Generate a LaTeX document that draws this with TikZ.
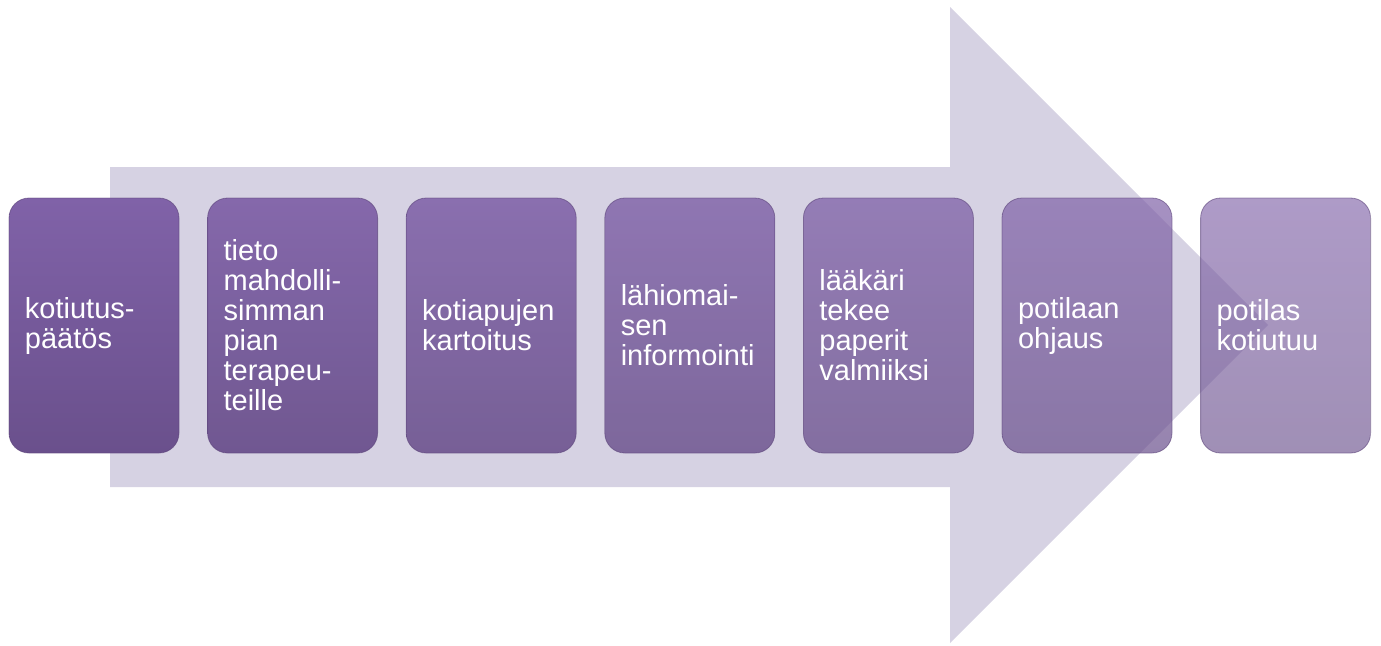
\documentclass[tikz,border=0pt]{standalone}
\usepackage{fontspec}
\setmainfont{Liberation Sans}
\usepackage{tikz}
\usetikzlibrary{positioning}
\definecolor{arrowlilac}{RGB}{214,210,227}
\definecolor{steptop}{RGB}{128,98,168}
\definecolor{stepbot}{RGB}{106,80,140}
\definecolor{stepedge}{RGB}{92,68,122}

\begin{document}
\begin{tikzpicture}[x=0.5pt, y=-0.5pt, node distance=13.9pt,
    every node/.style={font=\fontsize{14.5}{15}\selectfont},
    phase/.style={rectangle, rounded corners=10pt, top color=steptop, bottom color=stepbot,
      draw=stepedge, draw opacity=0.6, line width=0.4pt, minimum width=85pt, minimum height=127.5pt,
      text width=69pt, inner xsep=8pt, align=left, text=white, fill opacity=#1, text opacity=1}]
  \useasboundingbox (0,0) rectangle (1381,645);
  % big arrow behind the steps
  \draw[fill=arrowlilac, draw=none] (110,167) -- (950,167) -- (950,7) -- (1268,325)
    -- (950,643) -- (950,487) -- (110,487) -- cycle;
  % the steps
  \node[phase=1] (paatos) at (94,325.5) {kotiutus-\\päätös};
  \node[phase=0.94, right=of paatos] (tieto) {tieto\\mahdolli-\\simman\\pian\\terapeu-\\teille};
  \node[phase=0.88, right=of tieto] (kartoitus) {kotiapujen\\kartoitus};
  \node[phase=0.82, right=of kartoitus] (informointi) {lähiomai-\\sen\\informointi};
  \node[phase=0.76, right=of informointi] (paperit) {lääkäri\\tekee\\paperit\\valmiiksi};
  \node[phase=0.70, right=of paperit] (ohjaus) {potilaan\\ohjaus};
  \node[phase=0.64, right=of ohjaus] (kotiutuu) {potilas\\kotiutuu};
\end{tikzpicture}
\end{document}
